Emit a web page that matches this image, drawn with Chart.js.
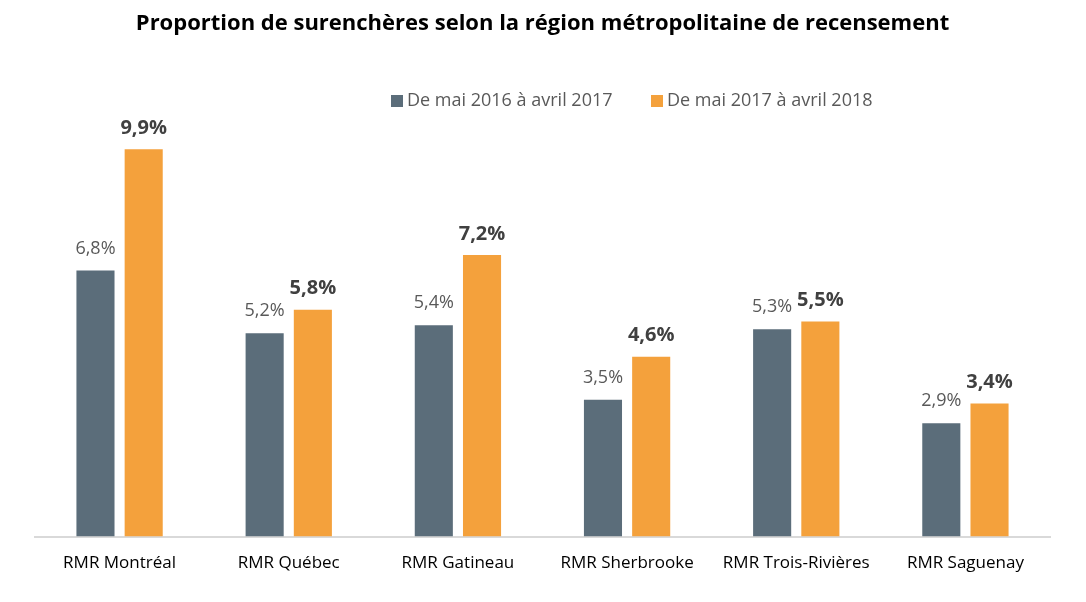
<!DOCTYPE html>
<html>
<head>
<meta charset="utf-8">
<script src="https://cdn.jsdelivr.net/npm/chart.js@4"></script>
<style>
  html, body { margin: 0; padding: 0; background: #fff; }
  #wrap { width: 1086px; height: 602px; }
</style>
</head>
<body>
<div id="wrap"><canvas id="chart"></canvas></div>
<script>
const regions = ["RMR Montréal", "RMR Québec", "RMR Gatineau", "RMR Sherbrooke", "RMR Trois-Rivières", "RMR Saguenay"];
const period2017 = [6.8, 5.2, 5.4, 3.5, 5.3, 2.9];
const period2018 = [9.9, 5.8, 7.2, 4.6, 5.5, 3.4];
const seriesNames = ["De mai 2016 à avril 2017", "De mai 2017 à avril 2018"];

const GREY = "#5B6D7A";
const ORANGE = "#F4A13C";
const FONT = "'Open Sans', 'Noto Sans', sans-serif";

// draws the values above each bar, second series in bold
const valueLabels = {
    id: "valueLabels",
    afterDatasetsDraw(chart) {
        const ctx = chart.ctx;
        ctx.save();
        ctx.textAlign = "center";
        ctx.textBaseline = "bottom";
        chart.data.datasets.forEach((ds, i) => {
            const bold = i === 1;
            ctx.font = (bold ? "bold 20px " : "18px ") + FONT;
            ctx.fillStyle = bold ? "#404040" : "#595959";
            chart.getDatasetMeta(i).data.forEach((bar, j) => {
                const txt = ds.data[j].toFixed(1).replace(".", ",") + "%";
                ctx.fillText(txt, bar.x, bar.y - (bold ? 11 : 13));
            });
        });
        ctx.restore();
    }
};

// legend drawn by hand so it can sit right of centre like the original
const sideLegend = {
    id: "sideLegend",
    afterDraw(chart) {
        const ctx = chart.ctx;
        ctx.save();
        ctx.font = "18px " + FONT;
        ctx.textBaseline = "middle";
        const starts = [391, 651];
        chart.data.datasets.forEach((ds, i) => {
            ctx.fillStyle = ds.backgroundColor;
            ctx.fillRect(starts[i], 95, 12, 12);
            ctx.fillStyle = "#595959";
            ctx.fillText(ds.label, starts[i] + 16, 101);
        });
        ctx.restore();
    }
};

new Chart(document.getElementById("chart"), {
    type: "bar",
    data: {
        labels: regions,
        datasets: [
            {label: seriesNames[0], data: period2017, backgroundColor: GREY},
            {label: seriesNames[1], data: period2018, backgroundColor: ORANGE}
        ]
    },
    options: {
        responsive: true,
        maintainAspectRatio: false,
        animation: false,
        datasets: {
            bar: {categoryPercentage: 0.57, barPercentage: 0.79}
        },
        layout: {padding: {left: 35, right: 36, top: 0, bottom: 21}},
        plugins: {
            legend: {display: false},
            tooltip: {enabled: false},
            title: {
                display: true,
                text: "Proportion de surenchères selon la région métropolitaine de recensement",
                color: "#000",
                font: {family: FONT, size: 22, weight: "bold"},
                padding: {top: 11, bottom: 63}
            }
        },
        scales: {
            x: {
                grid: {display: false},
                border: {color: "#D9D9D9", width: 2},
                ticks: {color: "#000", font: {family: FONT, size: 17}, padding: 8, maxRotation: 0}
            },
            y: {
                display: false,
                min: 0,
                max: 11.15
            }
        }
    },
    plugins: [valueLabels, sideLegend]
});
</script>
</body>
</html>
